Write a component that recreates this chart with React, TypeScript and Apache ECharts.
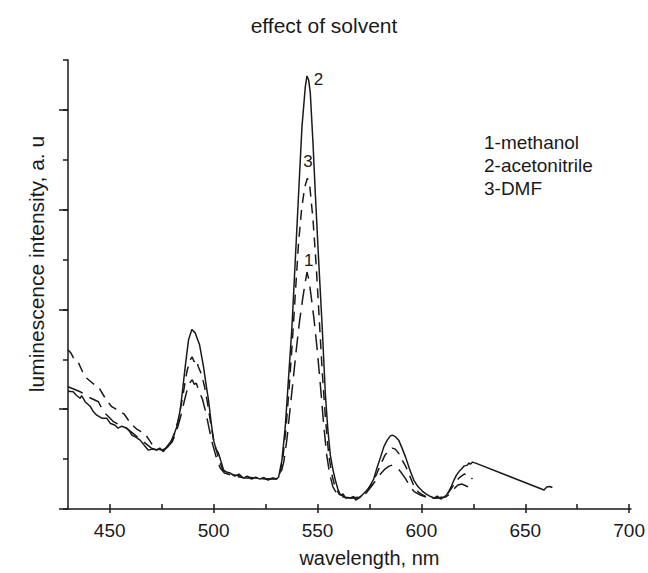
import React, { useEffect, useRef } from "react";
import * as echarts from "echarts";

// wavelength (nm), intensity (a.u.)
const acetonitrile: [number, number][] = [
  [430, 2.36], [432.5, 2.35], [434, 2.28], [435.8, 2.22], [436.6, 2.27], [438.2, 2.15], [440.6, 2.06], [442, 1.96],
  [443.8, 1.88], [446.2, 1.82], [448.6, 1.82], [450.2, 1.72], [452.6, 1.68], [454, 1.62], [455.8, 1.66], [458.2, 1.62],
  [459.5, 1.56], [460.6, 1.48], [462.5, 1.44], [464.6, 1.38], [466.5, 1.28], [468.6, 1.18], [470.5, 1.2], [472.6, 1.18],
  [474, 1.22], [475.8, 1.15], [477.4, 1.25], [479.8, 1.38], [482.2, 1.65], [483.8, 1.98], [485, 2.4], [486.2, 2.85],
  [487.8, 3.39], [489.4, 3.6], [491, 3.53], [493.1, 3.29], [495, 2.85], [496.2, 2.5], [497.4, 2.18], [498.6, 1.75],
  [499.8, 1.38], [501, 1.2], [502.2, 1.12], [503.4, 0.95], [504.6, 0.78], [506, 0.74], [507.8, 0.72], [510, 0.66],
  [512, 0.7], [514, 0.62], [516, 0.66], [518, 0.6], [520, 0.64], [522, 0.6], [524, 0.63], [526, 0.58], [528, 0.62],
  [530, 0.6], [531, 0.64], [532.6, 0.98], [534.2, 1.65], [535.8, 2.65], [537.4, 3.65], [539, 4.99], [540.6, 6.33],
  [542.2, 7.66], [543.8, 8.46], [544.6, 8.68], [545.4, 8.6], [546.2, 8.34], [547.5, 7.33], [548.6, 6.33], [550.2, 4.99],
  [551.9, 3.65], [553.4, 2.32], [554.6, 1.6], [555.8, 1.08], [557, 0.8], [558.2, 0.58], [559.4, 0.4], [560.6, 0.28],
  [562, 0.3], [563, 0.22], [565.4, 0.22], [567, 0.25], [568, 0.18], [570.2, 0.24], [572, 0.32], [573.5, 0.38],
  [575, 0.48], [576.6, 0.6], [578, 0.8], [579.9, 1.04], [581.5, 1.25], [583.1, 1.38], [584.5, 1.46], [585.5, 1.48],
  [587, 1.45], [588.6, 1.38], [590.2, 1.22], [591.9, 1.04], [593.8, 0.8], [595.8, 0.58], [597.8, 0.45], [599.9, 0.36],
  [601.8, 0.3], [603.9, 0.25], [605.5, 0.22], [607.1, 0.26], [608.7, 0.2], [610.3, 0.24], [611.5, 0.28], [612.7, 0.36],
  [613.9, 0.46], [615.1, 0.58], [616.3, 0.68], [617.5, 0.75], [618.7, 0.8], [619.9, 0.86], [621.5, 0.88], [622.3, 0.92],
  [623.1, 0.9], [624, 0.94], [625.5, 0.92], [658.3, 0.38], [659.6, 0.44], [661, 0.45], [662.3, 0.43],
];

const dmf: [number, number][] = [
  [430, 3.19], [431.5, 3.12], [433, 3.0], [435, 2.93], [437, 2.75], [439, 2.62], [441, 2.55], [443, 2.48], [445, 2.42],
  [447, 2.28], [449, 2.15], [451, 2.05], [453, 2.0], [455, 1.95], [457, 1.9], [459, 1.78], [461, 1.68], [463, 1.6],
  [465, 1.55], [467, 1.5], [469, 1.38], [471, 1.25], [473, 1.2], [475, 1.18], [477, 1.22], [479, 1.32], [481, 1.5],
  [483, 1.8], [485, 2.25], [487, 2.75], [488.5, 2.98], [489.5, 3.05], [490.5, 2.95], [491.5, 3.0], [492.5, 2.85],
  [494, 2.7], [495.5, 2.45], [497, 2.1], [498.5, 1.7], [500, 1.35], [502, 1.05], [504, 0.8], [506, 0.72], [510, 0.68],
  [515, 0.64], [520, 0.62], [525, 0.6], [530, 0.62], [531.5, 0.7], [533, 1.0], [534.5, 1.6], [536, 2.4], [537.5, 3.3],
  [539, 4.3], [540.5, 5.3], [542, 6.0], [543.5, 6.45], [544.8, 6.63], [546, 6.45], [547.5, 5.8], [549, 4.9],
  [550.5, 3.8], [552, 2.7], [553.5, 1.8], [555, 1.1], [556.5, 0.7], [558, 0.45], [560, 0.3], [563, 0.24], [566, 0.22],
  [569, 0.22], [572, 0.3], [575, 0.45], [578, 0.7], [580, 0.9], [582, 1.08], [584, 1.18], [585.5, 1.22], [587, 1.2],
  [588.5, 1.12], [590, 1.0], [592, 0.85], [594, 0.65], [596, 0.45], [598, 0.34], [601, 0.26], [604, 0.22], [607, 0.22],
  [610, 0.24], [612, 0.3], [614, 0.42], [616, 0.55], [618, 0.64], [620, 0.7], [622, 0.68], [624, 0.6],
];

const methanol: [number, number][] = [
  [430, 2.45], [433, 2.4], [435.8, 2.35], [438, 2.3], [441, 2.22], [444.6, 2.15], [447, 1.95], [449.5, 1.85],
  [451.8, 1.75], [455, 1.68], [458, 1.62], [461, 1.52], [464, 1.42], [467, 1.32], [470, 1.22], [473, 1.18], [476, 1.18],
  [478, 1.25], [480, 1.35], [482, 1.55], [484, 1.85], [486, 2.2], [487.5, 2.45], [488.8, 2.55], [489.6, 2.59],
  [490.5, 2.5], [491.5, 2.52], [493, 2.35], [494.5, 2.2], [496, 1.95], [497.5, 1.65], [499, 1.35], [501, 1.05],
  [503, 0.82], [505, 0.72], [510, 0.66], [515, 0.62], [520, 0.62], [525, 0.6], [530, 0.6], [532, 0.7], [533.5, 0.95],
  [535, 1.4], [536.5, 2.0], [538, 2.6], [539.5, 3.2], [541, 3.75], [542.5, 4.2], [543.8, 4.55], [544.6, 4.75],
  [545.5, 4.6], [546.5, 4.3], [548, 3.8], [549.5, 3.2], [551, 2.5], [552.5, 1.75], [554, 1.1], [555.5, 0.7],
  [557, 0.45], [559, 0.3], [562, 0.24], [566, 0.22], [570, 0.24], [573, 0.32], [576, 0.48], [579, 0.66], [582, 0.8],
  [584, 0.86], [585.5, 0.88], [587, 0.85], [588.5, 0.8], [590, 0.72], [592, 0.6], [594, 0.45], [596, 0.35],
  [599, 0.28], [603, 0.22], [607, 0.22], [611, 0.24], [613, 0.3], [615, 0.4], [617, 0.48], [619, 0.5], [621, 0.46],
  [623, 0.42],
];

const legendLines = ["1-methanol", "2-acetonitrile", "3-DMF"];
const curveLabels: { name: string; coord: [number, number] }[] = [
  { name: "1", coord: [545.4, 4.99] },
  { name: "2", coord: [550.1, 8.6] },
  { name: "3", coord: [545.1, 6.96] },
];

const FONT = "'Liberation Sans', Arial, Helvetica, sans-serif";
const INK = "#1a1a1a";

export default function App() {
  const ref = useRef<HTMLDivElement>(null);
  useEffect(() => {
    if (!ref.current) return;
    const chart = echarts.init(ref.current, undefined, { renderer: "svg" });
    const L = 68, R = 17, T = 60, B = 64;
    const pxPerNm = (648 - L - R) / 270;
    const pxPerUnit = (573 - T - B) / 9;
    const mkLine = (name: string, data: [number, number][], type: any, label: { name: string; coord: [number, number] }) => ({
      name,
      type: "line",
      xAxisIndex: 0,
      yAxisIndex: 0,
      data,
      showSymbol: false,
      symbol: "none",
      lineStyle: { color: INK, width: 1.5, type },
      markPoint: {
        symbol: "circle",
        symbolSize: 1,
        itemStyle: { color: "rgba(0,0,0,0)" },
        label: { show: true, position: "inside", color: INK, fontSize: 17, fontFamily: FONT, formatter: (p: any) => p.name },
        data: [{ name: label.name, coord: label.coord }],
      },
    });
    chart.setOption({
      animation: false,
      backgroundColor: "#fff",
      title: {
        text: "effect of solvent",
        left: "center",
        top: 10,
        textStyle: { fontSize: 21, fontWeight: "normal", color: INK, fontFamily: FONT },
      },
      grid: [
        { left: L, right: R, top: T, bottom: B },
        { left: L + 20 * pxPerNm, right: R, top: T, bottom: B },
        { left: L, right: R, top: T + pxPerUnit, bottom: B },
      ],
      xAxis: [
        {
          gridIndex: 0, type: "value", min: 430, max: 700,
          axisLine: { show: true, lineStyle: { color: INK, width: 1.5 } },
          axisTick: { show: false }, axisLabel: { show: false }, splitLine: { show: false },
        },
        {
          gridIndex: 1, type: "value", min: 450, max: 700, interval: 50,
          axisLine: { show: false },
          axisTick: { show: true, length: 9, lineStyle: { color: INK, width: 1.5 } },
          minorTick: { show: true, splitNumber: 2, length: 5, lineStyle: { color: INK, width: 1.5 } },
          axisLabel: { show: true, fontSize: 19, color: INK, fontFamily: FONT, margin: 17 },
          splitLine: { show: false },
          name: "wavelength, nm", nameLocation: "middle", nameGap: 44,
          nameTextStyle: { fontSize: 20, color: INK, fontFamily: FONT },
        },
        { gridIndex: 2, type: "value", min: 430, max: 700, show: false },
      ],
      yAxis: [
        {
          gridIndex: 0, type: "value", min: 0, max: 9, interval: 1,
          axisLine: { show: true, lineStyle: { color: INK, width: 1.5 } },
          axisTick: { show: true, length: 5, lineStyle: { color: INK, width: 1.5 } },
          axisLabel: { show: false }, splitLine: { show: false },
        },
        { gridIndex: 1, type: "value", min: 0, max: 9, show: false },
        {
          gridIndex: 2, type: "value", min: 0, max: 8, interval: 2,
          axisLine: { show: false },
          axisTick: { show: true, length: 9, lineStyle: { color: INK, width: 1.5 } },
          axisLabel: { show: false }, splitLine: { show: false },
        },
      ],
      graphic: [
        {
          type: "text", x: 36, y: 264, rotation: Math.PI / 2,
          style: { text: "luminescence intensity, a. u", fontSize: 21, fill: INK, fontFamily: FONT, align: "center", verticalAlign: "middle" },
        },
        ...legendLines.map((t, i) => ({
          type: "text", x: 484, y: 142 + i * 23,
          style: { text: t, fontSize: 19, fill: INK, fontFamily: FONT, align: "left", verticalAlign: "middle" },
        })),
      ],
      series: [
        mkLine("1-methanol", methanol, [16, 8], curveLabels[0]),
        mkLine("2-acetonitrile", acetonitrile, "solid", curveLabels[1]),
        mkLine("3-DMF", dmf, [10, 7], curveLabels[2]),
      ],
    });
    return () => chart.dispose();
  }, []);
  return <div ref={ref} style={{ position: "fixed", left: 0, top: 0, width: 648, height: 573 }} />;
}
